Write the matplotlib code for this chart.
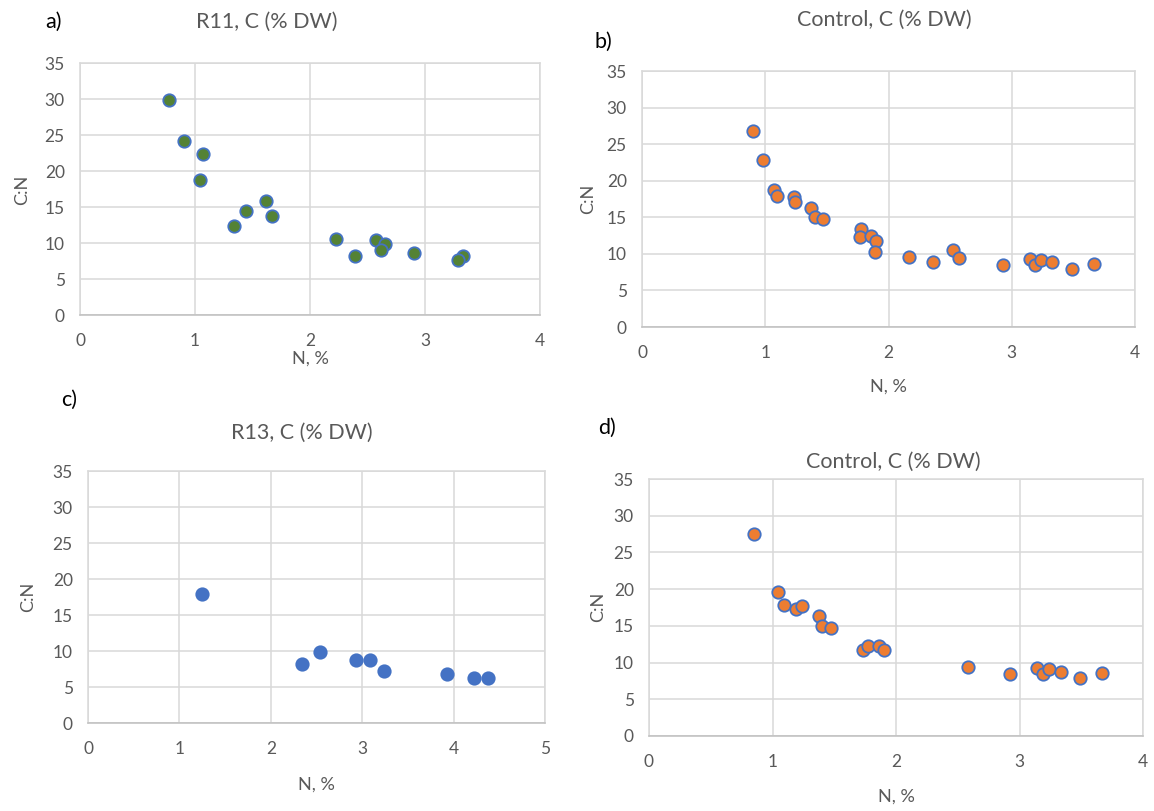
import matplotlib
matplotlib.use("Agg")
import matplotlib.pyplot as plt

plt.rcParams['font.family'] = ['Lato', 'DejaVu Sans']

W, H = 1154, 811

# a) R11
r11_n = [0.77, 0.90, 1.07, 1.04, 1.34, 1.44, 1.62, 1.67, 2.23, 2.39, 2.57, 2.65, 2.62, 2.90, 3.33, 3.29]
r11_cn = [29.8, 24.2, 22.3, 18.8, 12.3, 14.4, 15.9, 13.75, 10.55, 8.2, 10.46, 9.85, 9.07, 8.56, 8.24, 7.68]

# b) Control
ctrl_b_n = [0.90, 0.98, 1.07, 1.095, 1.23, 1.245, 1.37, 1.40, 1.47, 1.775, 1.765, 1.855, 1.90, 1.89,
            2.17, 2.365, 2.52, 2.575, 2.93, 3.145, 3.19, 3.24, 3.33, 3.49, 3.67]
ctrl_b_cn = [26.8, 22.8, 18.7, 17.87, 17.78, 17.1, 16.3, 15.1, 14.8, 13.4, 12.3, 12.5, 11.77, 10.3,
             9.63, 8.85, 10.55, 9.45, 8.45, 9.36, 8.5, 9.22, 8.82, 7.9, 8.64]

# c) R13
r13_n = [1.25, 2.34, 2.54, 2.93, 3.09, 3.24, 3.93, 4.22, 4.375]
r13_cn = [17.9, 8.15, 9.8, 8.7, 8.7, 7.2, 6.76, 6.2, 6.2]

# d) Control
ctrl_d_n = [0.85, 1.047, 1.096, 1.19, 1.24, 1.374, 1.404, 1.474, 1.73, 1.77, 1.86, 1.90,
            2.583, 2.926, 3.144, 3.188, 3.239, 3.333, 3.493, 3.665]
ctrl_d_cn = [27.56, 19.6, 17.87, 17.28, 17.69, 16.28, 15.0, 14.7, 11.69, 12.32, 12.32, 11.69,
             9.37, 8.46, 9.32, 8.46, 9.14, 8.73, 7.87, 8.55]

GRAY = '#595959'
GRID = '#D9D9D9'
BLUE = '#4472C4'
GREEN = '#548235'
ORANGE = '#ED7D31'


def px_axes(fig, x0, y0, x1, y1):
    return fig.add_axes([x0 / W, 1 - y1 / H, (x1 - x0) / W, (y1 - y0) / H])


def ftext(fig, x, y, s, **kw):
    fig.text(x / W, 1 - y / H, s, ha='center', va='center', **kw)


fig = plt.figure(figsize=(W / 100, H / 100), dpi=100)

panels = [
    # data, colour, xmax, axes px box, title, letter, label positions
    (r11_n, r11_cn, GREEN, 4, (80, 63, 540, 315), 'R11, C (% DW)', 'a)',
     (267, 22), (53, 22), (22, 190), (310, 359)),
    (ctrl_b_n, ctrl_b_cn, ORANGE, 4, (642, 71, 1135, 327), 'Control, C (% DW)', 'b)',
     (884, 20), (603, 42), (588, 199), (888, 387)),
    (r13_n, r13_cn, BLUE, 5, (88, 471, 545, 723), 'R13, C (% DW)', 'c)',
     (302, 433), (69, 400), (28, 597), (316, 785)),
    (ctrl_d_n, ctrl_d_cn, ORANGE, 4, (649, 479, 1143, 736), 'Control, C (% DW)', 'd)',
     (893, 462), (607, 428), (598, 607), (896, 797)),
]

for xs, ys, fc, xmax, box, title, letter, tpos, lpos, ylpos, xlpos in panels:
    ax = px_axes(fig, *box)
    ax.scatter(xs, ys, s=80, facecolor=fc, edgecolor=BLUE, linewidth=1.3, zorder=3, clip_on=False)
    ax.set_xlim(0, xmax)
    ax.set_ylim(0, 35)
    ax.set_xticks(range(0, xmax + 1))
    ax.set_yticks(range(0, 36, 5))
    ax.grid(True, color=GRID, linewidth=1.1)
    ax.set_axisbelow(True)
    for sp in ax.spines.values():
        sp.set_color(GRID)
        sp.set_linewidth(1.1)
    ax.spines['bottom'].set_color('#BFBFBF')
    ax.tick_params(length=0, labelsize=12.5, colors=GRAY, pad=11)
    ax.tick_params(axis='x', pad=13)
    ftext(fig, *tpos, title, fontsize=15.5, color=GRAY)
    ftext(fig, *lpos, letter, fontsize=15.5, color='black')
    ftext(fig, *ylpos, 'C:N', fontsize=13, color=GRAY, rotation=90)
    ftext(fig, *xlpos, 'N, %', fontsize=13, color=GRAY)

fig.savefig('out.png', dpi=100, facecolor='white')
